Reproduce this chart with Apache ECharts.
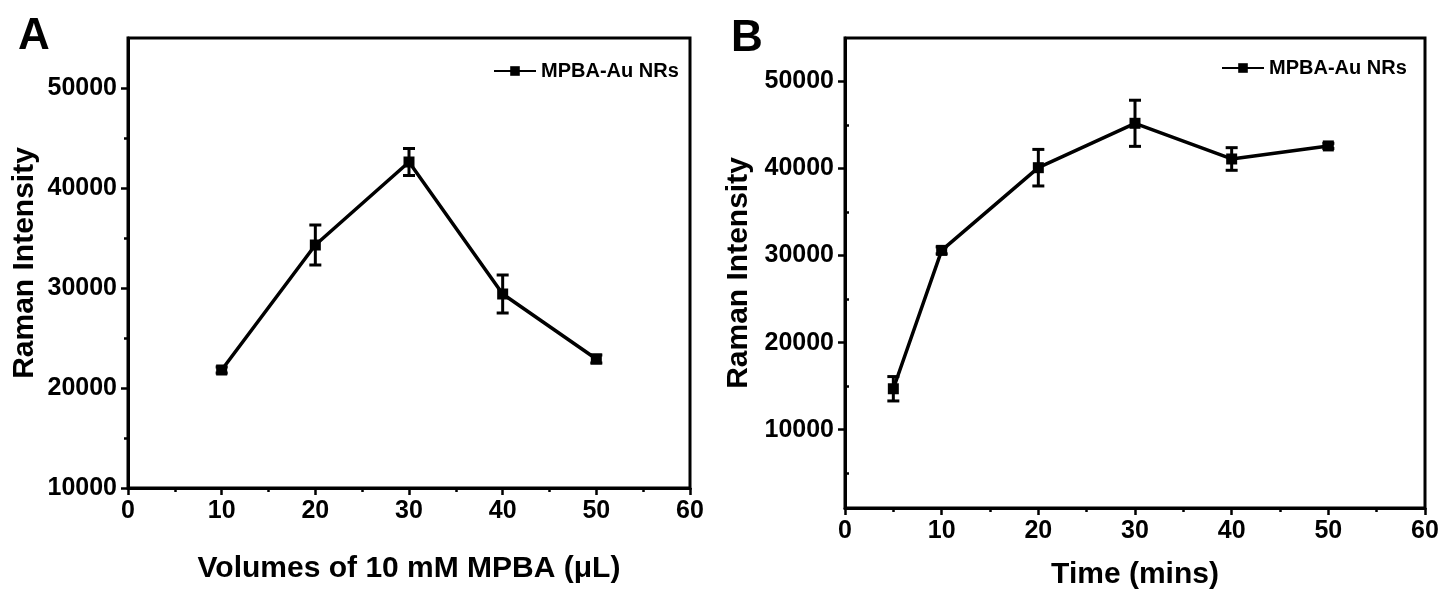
<!DOCTYPE html>
<html><head><meta charset="utf-8">
<script src="https://cdn.jsdelivr.net/npm/echarts@6/dist/echarts.min.js"></script>
<style>html,body{margin:0;padding:0;background:#fff}#c{width:1443px;height:589px}</style>
</head><body><div id="c"></div>
<script>
const xA = [10, 20, 30, 40, 50];
const yA = [21800, 34300, 42600, 29400, 22900];
const eA = [300, 2000, 1350, 1900, 400];
const xB = [5, 10, 20, 30, 40, 50];
const yB = [14700, 30600, 40100, 45200, 41100, 42600];
const eB = [1400, 400, 2100, 2650, 1300, 300];
const xTicks = [0, 10, 20, 30, 40, 50, 60];
const yTicksA = [10000, 20000, 30000, 40000, 50000];
const yTicksB = [10000, 20000, 30000, 40000, 50000];
const yMinorB = [5000, 15000, 25000, 35000, 45000];
const seriesName = 'MPBA-Au NRs';
const titleA = 'Volumes of 10 mM MPBA (μL)';
const titleB = 'Time (mins)';
const yTitle = 'Raman Intensity';

const FONT = '"Liberation Sans", Arial, sans-serif';
const chart = echarts.init(document.getElementById('c'), null, {renderer: 'canvas'});

function errRender(params, api) {
  const x = api.value(0), lo = api.value(1), hi = api.value(2);
  const p1 = api.coord([x, lo]), p2 = api.coord([x, hi]);
  const w = 6;
  const st = {stroke: '#000', lineWidth: 3};
  return {type: 'group', children: [
    {type: 'line', shape: {x1: p1[0], y1: p1[1], x2: p2[0], y2: p2[1]}, style: st},
    {type: 'line', shape: {x1: p1[0] - w, y1: p1[1], x2: p1[0] + w, y2: p1[1]}, style: st},
    {type: 'line', shape: {x1: p2[0] - w, y1: p2[1], x2: p2[0] + w, y2: p2[1]}, style: st}
  ]};
}

const fmt = v => String(v);
const tickLabel = {color: '#000', fontFamily: FONT, fontWeight: 'bold', fontSize: 25, margin: 11, formatter: fmt};
const nameStyle = {color: '#000', fontFamily: FONT, fontWeight: 'bold', fontSize: 30};
const axLine = {show: true, onZero: false, lineStyle: {color: '#000', width: 3}};
const axTick = {show: true, length: 7, lineStyle: {color: '#000', width: 2.5}};
const minTick = {show: true, splitNumber: 2, length: 4, lineStyle: {color: '#000', width: 2.5}};
const legText = {color: '#000', fontFamily: FONT, fontWeight: 'bold', fontSize: 20};

const option = {
  animation: false,
  backgroundColor: '#fff',
  legend: [
    {data: [seriesName], left: 488, top: 56, itemWidth: 42, itemHeight: 12, textStyle: legText},
    {data: [seriesName], left: 1216, top: 53, itemWidth: 42, itemHeight: 12, textStyle: legText}
  ],
  graphic: [
    {type: 'text', left: 18, top: 15, style: {text: 'A', fontFamily: FONT, fontWeight: 'bold', fontSize: 44, fill: '#000'}},
    {type: 'text', left: 731, top: 17, style: {text: 'B', fontFamily: FONT, fontWeight: 'bold', fontSize: 44, fill: '#000'}}
  ],
  grid: [
    {left: 128, top: 38, width: 562, height: 450, outerBoundsMode: 'none', containLabel: false, show: true, borderColor: '#000', borderWidth: 3, backgroundColor: 'transparent'},
    {left: 845, top: 38, width: 580, height: 470, outerBoundsMode: 'none', containLabel: false, show: true, borderColor: '#000', borderWidth: 3, backgroundColor: 'transparent'}
  ],
  xAxis: [
    {gridIndex: 0, type: 'value', min: 0, max: 60, interval: 10, name: titleA, nameLocation: 'middle', nameGap: 66,
     nameTextStyle: nameStyle, axisLine: axLine, axisTick: axTick, minorTick: minTick, splitLine: {show: false},
     axisLabel: Object.assign({customValues: xTicks}, tickLabel)},
    {gridIndex: 1, type: 'value', min: 0, max: 60, interval: 10, name: titleB, nameLocation: 'middle', nameGap: 52,
     nameTextStyle: nameStyle, axisLine: axLine, axisTick: axTick, minorTick: minTick, splitLine: {show: false},
     axisLabel: Object.assign({customValues: xTicks}, tickLabel)}
  ],
  yAxis: [
    {gridIndex: 0, type: 'value', min: 10000, max: 55000, interval: 10000, name: yTitle, nameLocation: 'middle', nameGap: 88,
     nameTextStyle: nameStyle, axisLine: axLine, axisTick: Object.assign({customValues: yTicksA}, axTick), minorTick: minTick, splitLine: {show: false},
     axisLabel: Object.assign({customValues: yTicksA}, tickLabel)},
    {gridIndex: 1, type: 'value', min: 1000, max: 55000, name: yTitle, nameLocation: 'middle', nameGap: 91,
     nameTextStyle: nameStyle, axisLine: axLine, axisTick: Object.assign({customValues: yTicksB}, axTick), splitLine: {show: false},
     axisLabel: Object.assign({customValues: yTicksB}, tickLabel)},
    {gridIndex: 1, type: 'value', min: 1000, max: 55000, axisLine: {show: false}, splitLine: {show: false},
     axisLabel: {show: false, customValues: yMinorB},
     axisTick: {show: true, customValues: yMinorB, length: 4, lineStyle: {color: '#000', width: 2.5}}}
  ],
  series: [
    {name: seriesName, type: 'line', xAxisIndex: 0, yAxisIndex: 0, data: xA.map((x, i) => [x, yA[i]]),
     symbol: 'rect', symbolSize: 11, lineStyle: {color: '#000', width: 3.5}, itemStyle: {color: '#000'}, z: 3},
    {type: 'custom', xAxisIndex: 0, yAxisIndex: 0, renderItem: errRender, encode: {x: 0, y: [1, 2]},
     data: xA.map((x, i) => [x, yA[i] - eA[i], yA[i] + eA[i]]), z: 4},
    {name: seriesName, type: 'line', xAxisIndex: 1, yAxisIndex: 1, data: xB.map((x, i) => [x, yB[i]]),
     symbol: 'rect', symbolSize: 11, lineStyle: {color: '#000', width: 3.5}, itemStyle: {color: '#000'}, z: 3},
    {type: 'custom', xAxisIndex: 1, yAxisIndex: 1, renderItem: errRender, encode: {x: 0, y: [1, 2]},
     data: xB.map((x, i) => [x, yB[i] - eB[i], yB[i] + eB[i]]), z: 4}
  ]
};
chart.setOption(option);
</script></body></html>
